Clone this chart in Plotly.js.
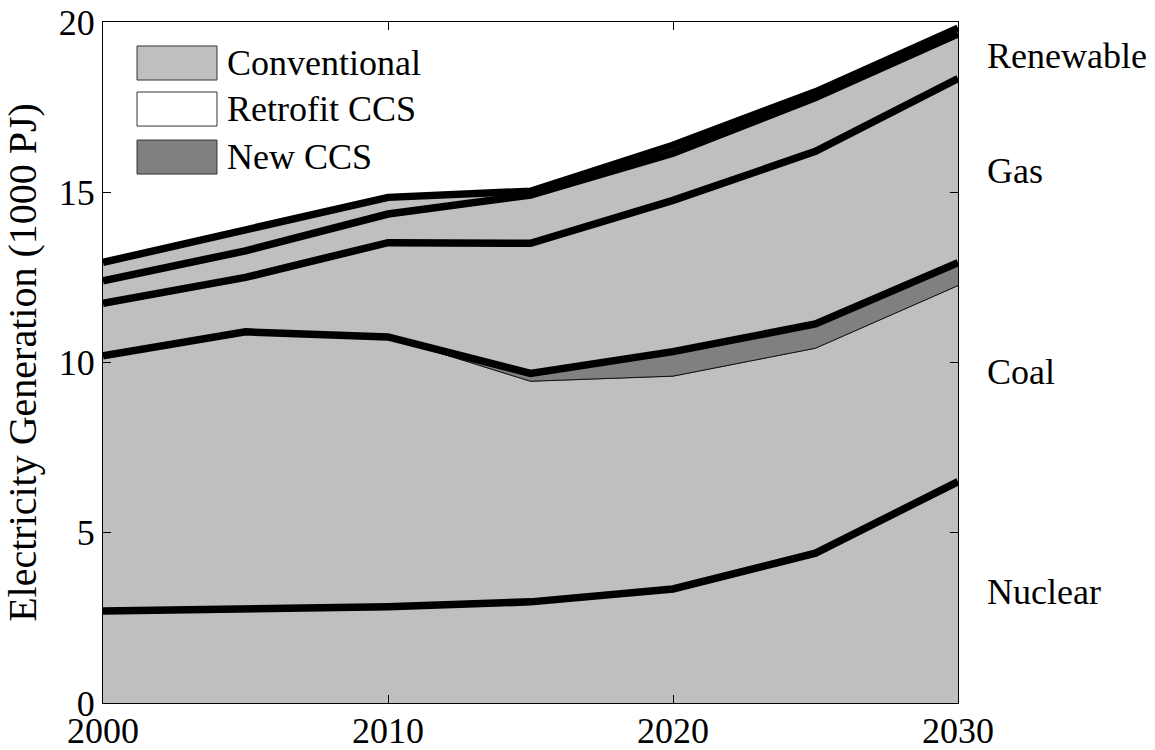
<!DOCTYPE html>
<html>
<head>
<meta charset="utf-8">
<script src="https://cdn.plot.ly/plotly-3.0.1.min.js"></script>
<style>
  html, body { margin: 0; padding: 0; background: #ffffff; }
  #chart { width: 1155px; height: 750px; }
</style>
</head>
<body>
<div id="chart"></div>
<script>
// ---- data (1000 PJ) ----
const years = [2000, 2005, 2010, 2015, 2020, 2025, 2030];
const nuclear          = [2.70, 2.78, 2.83, 2.97, 3.35, 4.40, 6.50];
const coalConventional = [7.50, 8.12, 7.92, 6.48, 6.25, 6.02, 5.76];
const coalRetrofitCCS  = [0.00, 0.00, 0.00, 0.00, 0.00, 0.00, 0.00];
const coalNewCCS       = [0.00, 0.00, 0.00, 0.23, 0.72, 0.71, 0.67];
const gas              = [1.54, 1.60, 2.77, 3.82, 4.44, 5.07, 5.41];
const renewable        = [0.66, 0.78, 0.84, 1.42, 1.39, 1.58, 1.31];
const other            = [0.54, 0.59, 0.49, 0.11, 0.23, 0.17, 0.17];

const xTicks = [2000, 2010, 2020, 2030];
const yTicks = [0, 5, 10, 15, 20];
const fuelLabels = ['Nuclear', 'Coal', 'Gas', 'Renewable'];
const legendLabels = ['Conventional', 'Retrofit CCS', 'New CCS'];

// ---- styles ----
const FONT = 'Liberation Serif, Times New Roman, serif';
const FS = 36;
const C_CONV = '#bfbfbf';
const C_RETRO = '#ffffff';
const C_NEW = '#808080';

const layers = [
  {y: nuclear, c: C_CONV},
  {y: coalConventional, c: C_CONV},
  {y: coalRetrofitCCS, c: C_RETRO},
  {y: coalNewCCS, c: C_NEW},
  {y: gas, c: C_CONV},
  {y: renewable, c: C_CONV},
  {y: other, c: C_CONV}
];

const traces = layers.map(l => ({
  x: years, y: l.y, type: 'scatter', mode: 'lines',
  stackgroup: 'fill', fillcolor: l.c,
  line: {color: '#000000', width: 0.8},
  hoverinfo: 'skip', showlegend: false
}));

// fuel totals for the heavy boundary lines
const sumArr = (...arrs) => years.map((_, i) => arrs.reduce((s, a) => s + a[i], 0));
const coalTotal = sumArr(coalConventional, coalRetrofitCCS, coalNewCCS);
const fuelTotals = [nuclear, coalTotal, gas, renewable, other];
fuelTotals.forEach(f => {
  traces.push({
    x: years, y: f, type: 'scatter', mode: 'lines',
    stackgroup: 'bounds', fill: 'none',
    line: {color: '#000000', width: 7.5},
    hoverinfo: 'skip', showlegend: false
  });
});

// right-hand fuel labels at band midpoints of final year
const last = years.length - 1;
let base = 0;
const annotations = [];
[nuclear, coalTotal, gas, renewable].forEach((f, k) => {
  const mid = base + f[last] / 2;
  base += f[last];
  annotations.push({
    xref: 'paper', yref: 'y', x: 1.031, y: mid, xanchor: 'left', yanchor: 'middle',
    text: fuelLabels[k], showarrow: false, font: {family: FONT, size: FS, color: '#000'}
  });
});

// custom legend (paper coordinates)
const shapes = [];
const legColors = [C_CONV, C_RETRO, C_NEW];
const rowTop = [0.9648, 0.8972, 0.8267];
const rowH = 0.0500;
legendLabels.forEach((lab, i) => {
  shapes.push({
    type: 'rect', xref: 'paper', yref: 'paper', layer: 'above',
    x0: 0.0398, x1: 0.1333, y0: rowTop[i] - rowH, y1: rowTop[i],
    fillcolor: legColors[i], line: {color: '#333333', width: 1}
  });
  annotations.push({
    xref: 'paper', yref: 'paper', x: 0.1425, y: rowTop[i] - rowH / 2,
    xanchor: 'left', yanchor: 'middle', text: lab, showarrow: false,
    font: {family: FONT, size: FS, color: '#000'}
  });
});

const layout = {
  width: 1155, height: 750,
  margin: {l: 103, r: 197, t: 22, b: 47},
  paper_bgcolor: '#ffffff', plot_bgcolor: '#ffffff',
  showlegend: false,
  font: {family: FONT, size: FS, color: '#000'},
  xaxis: {
    range: [2000, 2030], tickvals: xTicks, ticktext: xTicks.map(String),
    ticks: 'inside', ticklen: 8, tickcolor: '#000', showgrid: false, zeroline: false,
    showline: true, linecolor: '#000', linewidth: 1, mirror: 'ticks',
    ticklabelstandoff: -4,
    tickfont: {family: FONT, size: FS, color: '#000'}
  },
  yaxis: {
    range: [0, 20], tickvals: yTicks, ticktext: yTicks.map(String),
    ticks: 'inside', ticklen: 8, tickcolor: '#000', showgrid: false, zeroline: false,
    showline: true, linecolor: '#000', linewidth: 1, mirror: 'ticks',
    tickfont: {family: FONT, size: FS, color: '#000'},
    title: {text: 'Electricity Generation (1000 PJ)', font: {family: FONT, size: 40, color: '#000'}, standoff: 10}
  },
  annotations: annotations,
  shapes: shapes
};

Plotly.newPlot('chart', traces, layout, {staticPlot: true, displayModeBar: false});
</script>
</body>
</html>
